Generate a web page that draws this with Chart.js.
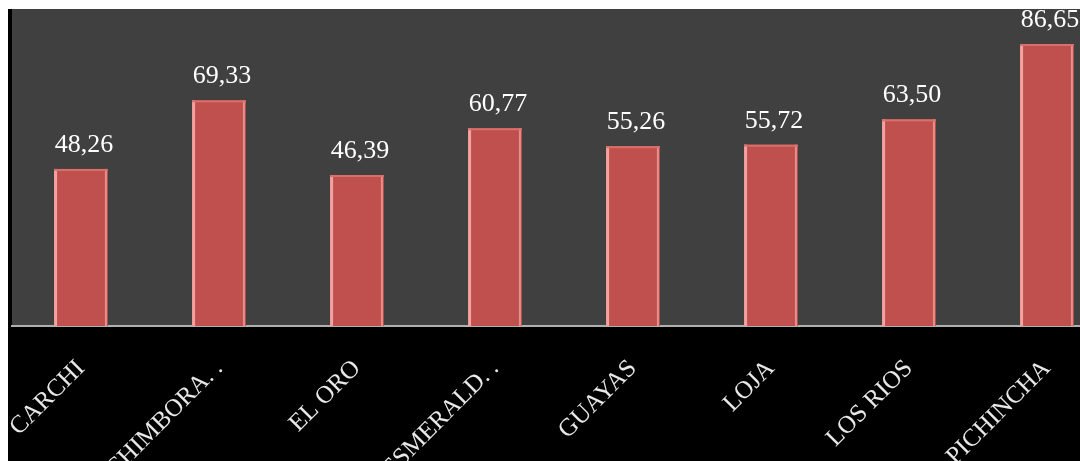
<!DOCTYPE html>
<html lang="es">
<head>
  <meta charset="UTF-8">
  <title>Provincias</title>
  <style>
    html, body { margin: 0; padding: 0; background: #ffffff; overflow: hidden; }
    #wrap { position: absolute; left: 8px; top: 9px; width: 1108px; height: 452px; background: #000000; }
  </style>
</head>
<body>
  <div id="wrap"><canvas id="myChart"></canvas></div>

<script src="https://cdn.jsdelivr.net/npm/chart.js"></script>
<script>
  const provincias = ['CARCHI', 'CHIMBORA. .', 'EL ORO', 'ESMERALD. .', 'GUAYAS', 'LOJA', 'LOS RIOS', 'PICHINCHA'];
  const valores = [48.26, 69.33, 46.39, 60.77, 55.26, 55.72, 63.50, 86.65];
  const etiquetas = ['48,26', '69,33', '46,39', '60,77', '55,26', '55,72', '63,50', '86,65'];

  // fondo gris del area del grafico
  const plotBg = {
    id: 'plotBg',
    beforeDraw(chart) {
      const a = chart.chartArea;
      const c = chart.ctx;
      c.save();
      c.fillStyle = '#404040';
      c.fillRect(a.left, a.top, a.right - a.left, a.bottom - a.top);
      c.restore();
    }
  };

  // bisel de las barras + etiquetas de valor
  const bevel = {
    id: 'bevel',
    afterDatasetsDraw(chart) {
      const c = chart.ctx;
      const meta = chart.getDatasetMeta(0);
      c.save();
      meta.data.forEach((bar, i) => {
        const p = bar.getProps(['x', 'y', 'base', 'width'], true);
        const l = p.x - p.width / 2, r = p.x + p.width / 2;
        const h = p.base - p.y;
        c.fillStyle = '#f2a3a0';
        c.fillRect(l, p.y, 3, h);
        c.fillStyle = '#e58f8b';
        c.fillRect(r - 3, p.y, 2, h);
        c.fillStyle = '#d9706c';
        c.fillRect(l, p.y, p.width, 2);
        c.fillStyle = '#ffffff';
        c.font = '26px "Liberation Serif", "Times New Roman", serif';
        c.textAlign = 'center';
        c.textBaseline = 'alphabetic';
        c.fillText(etiquetas[i], p.x + 3, p.y - 17);
      });
      c.restore();
    }
  };

  const ctx = document.getElementById('myChart');
  const myChart = new Chart(ctx, {
    type: 'bar',
    data: {
      labels: provincias,
      datasets: [{
        data: valores,
        backgroundColor: '#c0504d',
        borderWidth: 0,
        barPercentage: 0.39,
        categoryPercentage: 1
      }]
    },
    options: {
      responsive: true,
      maintainAspectRatio: false,
      animation: false,
      layout: { padding: { left: 4, right: 0, top: 0, bottom: 0 } },
      plugins: {
        legend: { display: false },
        tooltip: { enabled: false }
      },
      scales: {
        x: {
          grid: { display: false },
          border: { display: true, color: '#b0b0b0', width: 2 },
          afterFit: (scale) => {
            scale.height = 135;
            scale.paddingLeft = 0;
            scale.paddingRight = 0;
          },
          ticks: {
            color: '#e8e8e8',
            minRotation: 45,
            maxRotation: 45,
            padding: 20,
            autoSkip: false,
            font: { family: '"Liberation Serif", "Times New Roman", serif', size: 25 }
          }
        },
        y: {
          display: false,
          min: 0,
          max: 97.4
        }
      }
    },
    plugins: [plotBg, bevel]
  });
</script>
</body>
</html>
